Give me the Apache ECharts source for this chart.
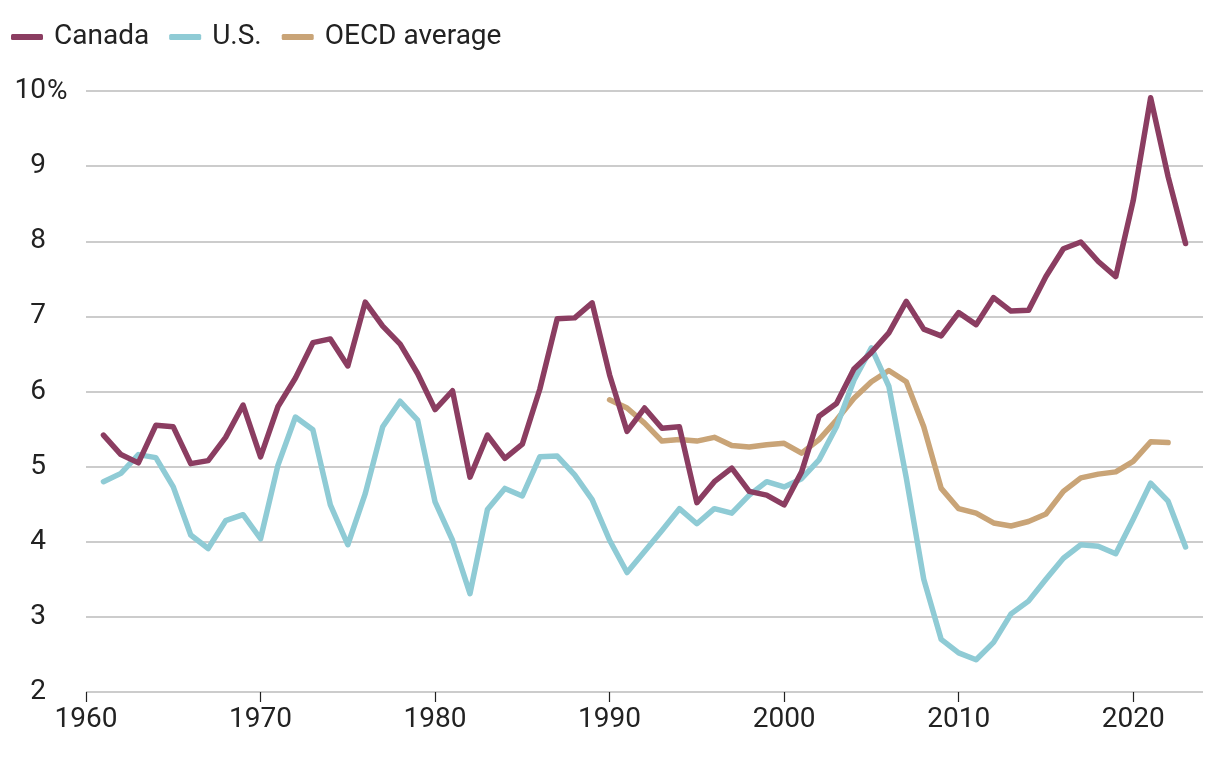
<!DOCTYPE html>
<html>
<head>
<meta charset="utf-8">
<script src="https://cdn.jsdelivr.net/npm/echarts@6/dist/echarts.min.js"></script>
<style>
html,body{margin:0;padding:0;background:#fff;}
#chart{width:1220px;height:758px;}
</style>
</head>
<body>
<div id="chart"></div>
<script>
const years = [1961,1962,1963,1964,1965,1966,1967,1968,1969,1970,1971,1972,1973,1974,1975,1976,1977,1978,1979,1980,1981,1982,1983,1984,1985,1986,1987,1988,1989,1990,1991,1992,1993,1994,1995,1996,1997,1998,1999,2000,2001,2002,2003,2004,2005,2006,2007,2008,2009,2010,2011,2012,2013,2014,2015,2016,2017,2018,2019,2020,2021,2022,2023];
const canada = [5.42,5.16,5.05,5.55,5.53,5.04,5.08,5.39,5.82,5.13,5.80,6.18,6.65,6.70,6.34,7.19,6.87,6.63,6.24,5.76,6.01,4.86,5.42,5.11,5.30,6.03,6.97,6.98,7.18,6.22,5.47,5.78,5.51,5.53,4.52,4.80,4.98,4.67,4.62,4.49,4.93,5.67,5.84,6.30,6.52,6.78,7.20,6.83,6.74,7.05,6.89,7.25,7.07,7.08,7.53,7.90,7.99,7.73,7.53,8.54,9.91,8.86,7.97];
const us = [4.80,4.91,5.16,5.12,4.73,4.09,3.91,4.28,4.36,4.04,5.02,5.66,5.49,4.49,3.96,4.64,5.53,5.87,5.62,4.53,4.02,3.31,4.43,4.71,4.61,5.13,5.14,4.89,4.56,4.02,3.59,3.87,4.15,4.44,4.24,4.44,4.38,4.62,4.80,4.73,4.84,5.09,5.53,6.15,6.58,6.07,4.85,3.50,2.70,2.52,2.43,2.66,3.04,3.21,3.50,3.78,3.96,3.94,3.84,4.30,4.78,4.54,3.93];
const oecdYears = [1990,1991,1992,1993,1994,1995,1996,1997,1998,1999,2000,2001,2002,2003,2004,2005,2006,2007,2008,2009,2010,2011,2012,2013,2014,2015,2016,2017,2018,2019,2020,2021,2022];
const oecd = [5.89,5.78,5.58,5.34,5.36,5.34,5.39,5.28,5.26,5.29,5.31,5.18,5.36,5.62,5.91,6.13,6.28,6.13,5.53,4.71,4.44,4.38,4.25,4.21,4.27,4.37,4.67,4.85,4.90,4.93,5.07,5.33,5.32];
const xTicks = [1960,1970,1980,1990,2000,2010,2020];
const yTicks = [2,3,4,5,6,7,8,9,10];
const seriesNames = ['Canada','U.S.','OECD average'];
const colors = ['#8b3d61','#8fcbd5','#c9a477'];

const pair = (xs, ys) => xs.map((x, i) => [x, ys[i]]);
const FONT = 'Roboto';

const chart = echarts.init(document.getElementById('chart'));
chart.setOption({
  animation: false,
  textStyle: { fontFamily: FONT },
  color: colors,
  legend: {
    left: 6, top: 18,
    itemWidth: 32, itemHeight: 6, itemGap: 20,
    icon: 'roundRect',
    textStyle: { fontSize: 28, color: '#222', fontFamily: FONT, padding: [0,0,0,6] },
    data: seriesNames
  },
  graphic: [{
    type: 'text', left: 47, top: 78, z: 10,
    style: { text: '%', fontSize: 28, fill: '#222', fontFamily: FONT }
  }],
  grid: { left: 86, right: 17, top: 91, bottom: 66 },
  xAxis: {
    type: 'value', min: 1960, max: 2024, interval: 10,
    axisLine: { show: false },
    axisTick: { show: true, length: 10, customValues: xTicks, lineStyle: { color: '#222', width: 1.2 } },
    axisLabel: { fontSize: 28, color: '#222', margin: 14, fontFamily: FONT, customValues: xTicks, formatter: v => String(v) },
    splitLine: { show: false }
  },
  yAxis: {
    type: 'value', min: 2, max: 10, interval: 1,
    axisLine: { show: false }, axisTick: { show: false },
    axisLabel: { fontSize: 28, color: '#222', margin: 40, fontFamily: FONT, customValues: yTicks, formatter: v => String(v) },
    splitLine: { show: true, lineStyle: { color: '#cccccc', width: 2 } }
  },
  series: [
    { name: seriesNames[0], type: 'line', data: pair(years, canada), showSymbol: false, symbol: 'none', lineStyle: { width: 5.5, color: colors[0], join: 'round', cap: 'round' }, z: 4 },
    { name: seriesNames[1], type: 'line', data: pair(years, us), showSymbol: false, symbol: 'none', lineStyle: { width: 5.5, color: colors[1], join: 'round', cap: 'round' }, z: 3 },
    { name: seriesNames[2], type: 'line', data: pair(oecdYears, oecd), showSymbol: false, symbol: 'none', lineStyle: { width: 5.5, color: colors[2], join: 'round', cap: 'round' }, z: 2 }
  ]
});
</script>
</body>
</html>
